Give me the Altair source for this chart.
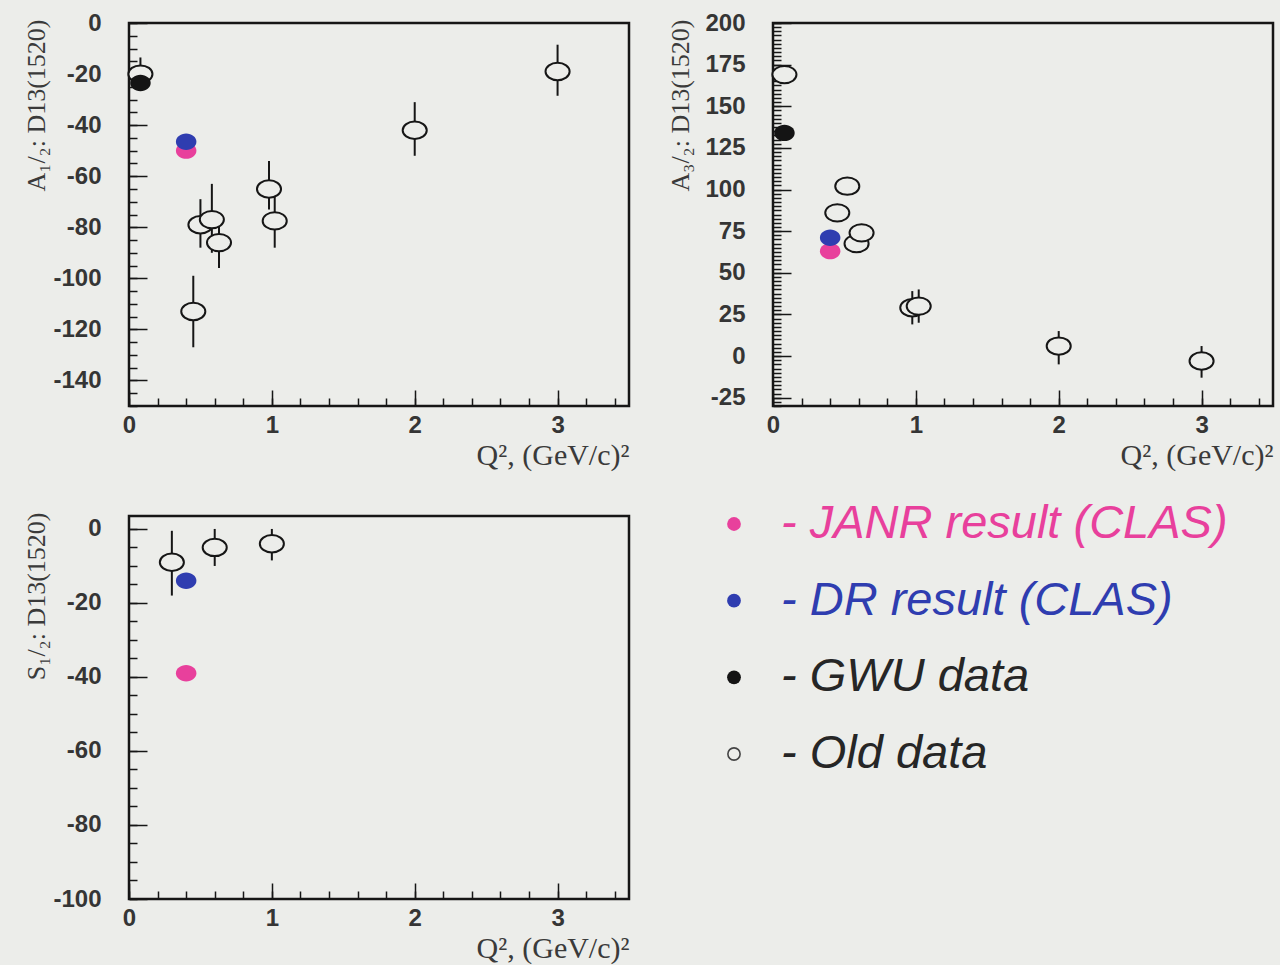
import altair as alt
import pandas as pd

BG = "#ecedea"
INK = "#161616"
PINK = "#e8409c"
BLUE = "#2f3db0"
BLACK = "#141414"
W, H = 500, 383

# ---------------- data: A1/2 ----------------
a12_old_q = [0.08, 0.45, 0.50, 0.58, 0.63, 0.98, 1.02, 2.0, 3.0]
a12_old_v = [-20, -113, -79, -77, -86, -65, -77.5, -42, -19]
a12_old_hi = [-13.5, -99, -69, -63, -77, -54, -67, -31, -8.5]
a12_old_lo = [-26, -127, -88, -90, -96, -73, -88, -52, -28.5]
a12_gwu_q, a12_gwu_v = [0.08], [-23.5]
a12_dr_q, a12_dr_v = [0.40], [-46.5]
a12_janr_q, a12_janr_v = [0.40], [-50]

# ---------------- data: A3/2 ----------------
a32_old_q = [0.08, 0.45, 0.52, 0.585, 0.62, 0.975, 1.02, 2.0, 3.0]
a32_old_v = [169, 86, 102, 67.5, 74, 29, 30, 6, -3]
a32_old_hi = [169, 86, 102, 67.5, 74, 39, 40, 15, 6]
a32_old_lo = [169, 86, 102, 67.5, 74, 19, 20, -5, -13]
a32_gwu_q, a32_gwu_v = [0.08], [134]
a32_dr_q, a32_dr_v = [0.40], [71]
a32_janr_q, a32_janr_v = [0.40], [63]

# ---------------- data: S1/2 ----------------
s12_old_q = [0.30, 0.60, 1.0]
s12_old_v = [-9, -5, -4]
s12_old_hi = [-0.5, 0, 0]
s12_old_lo = [-18, -10, -8.5]
s12_dr_q, s12_dr_v = [0.40], [-14]
s12_janr_q, s12_janr_v = [0.40], [-39]

# ---------------- ticks ----------------
x_major = [0, 1, 2, 3]
x_minor = [round(i * 0.2, 2) for i in range(18)]
a12_major = [-140, -120, -100, -80, -60, -40, -20, 0]
a12_minor = list(range(-150, 1, 5))
a32_major = [-25, 0, 25, 50, 75, 100, 125, 150, 175, 200]
a32_minor = [i * 2.5 for i in range(-12, 81)]
s12_major = [-100, -80, -60, -40, -20, 0]
s12_minor = list(range(-100, 1, 5))

# ---------------- legend ----------------
leg_labels = ["- JANR result (CLAS)", "- DR result (CLAS)", "- GWU data", "- Old data"]
leg_text_colors = [PINK, BLUE, "#262626", "#262626"]
leg_marker_colors = [PINK, BLUE, BLACK, "#444444"]

ELL = "M -1 0 A 1 0.72 0 1 0 1 0 A 1 0.72 0 1 0 -1 0 Z"
DOT = "M -1 0 A 1 0.8 0 1 0 1 0 A 1 0.8 0 1 0 -1 0 Z"
LABEL_EXPR = "'' + datum.value"


def panel(oq, ov, ohi, olo, gq, gv, dq, dv, jq, jv, ydom, ymaj, ymin, ytitle, xtitle):
    old = pd.DataFrame({"q": oq, "v": ov, "hi": ohi, "lo": olo})
    xs = alt.Scale(domain=[0, 3.5], nice=False, zero=False)
    ys = alt.Scale(domain=ydom, nice=False, zero=False)
    base = alt.Chart(old)

    main_axes = base.mark_point(opacity=0).encode(
        x=alt.X("q:Q", scale=xs, axis=alt.Axis(
            orient="bottom", values=x_major, ticks=False, domain=False, grid=False,
            labelPadding=7, labelFlush=False, labelOverlap=False, labelExpr=LABEL_EXPR,
            title=xtitle, titleAnchor="end", titleAlign="right", titleBaseline="top",
            titleY=34, titleFont="Liberation Serif", titleFontSize=30)),
        y=alt.Y("v:Q", scale=ys, axis=alt.Axis(
            orient="left", values=ymaj, ticks=False, domain=False, grid=False,
            labelPadding=28, labelFlush=False, labelOverlap=False, labelExpr=LABEL_EXPR,
            title=ytitle, titleAnchor="end", titleAlign="right", titleBaseline="middle",
            titleAngle=270, titleX=-93, titleY=-4)),
    )
    minor_axes = base.mark_point(opacity=0).encode(
        x=alt.X("q:Q", scale=xs, axis=alt.Axis(
            orient="top", offset=-H, values=x_minor, labels=False, domain=False,
            grid=False, tickSize=8, tickWidth=1.5, tickColor=INK, title="")),
        y=alt.Y("v:Q", scale=ys, axis=alt.Axis(
            orient="right", offset=-W, values=ymin, labels=False, domain=False,
            grid=False, tickSize=8, tickWidth=1.5, tickColor=INK, title="")),
    )
    major_axes = base.mark_point(opacity=0).encode(
        x=alt.X("q:Q", scale=xs, axis=alt.Axis(
            orient="top", offset=-H, values=x_major, labels=False, domain=False,
            grid=False, tickSize=16, tickWidth=1.5, tickColor=INK, title="")),
        y=alt.Y("v:Q", scale=ys, axis=alt.Axis(
            orient="right", offset=-W, values=ymaj, labels=False, domain=False,
            grid=False, tickSize=18, tickWidth=1.5, tickColor=INK, title="")),
    )
    errs = base.mark_rule(color=INK, strokeWidth=2).encode(
        x=alt.X("q:Q", scale=xs, axis=None),
        y=alt.Y("hi:Q", scale=ys, axis=None),
        y2="lo:Q",
    )
    circles = base.mark_point(shape=ELL, size=580, filled=True, fill=BG,
                              stroke=INK, strokeWidth=2, opacity=1).encode(
        x=alt.X("q:Q", scale=xs, axis=None),
        y=alt.Y("v:Q", scale=ys, axis=None),
    )
    layers = [main_axes, minor_axes, major_axes, errs, circles]

    def dots(q, v, col):
        df = pd.DataFrame({"q": q, "v": v})
        return alt.Chart(df).mark_point(shape=DOT, size=420, filled=True, fill=col,
                                        opacity=1, strokeWidth=0).encode(
            x=alt.X("q:Q", scale=xs, axis=None),
            y=alt.Y("v:Q", scale=ys, axis=None),
        )

    if gq:
        layers.append(dots(gq, gv, BLACK))
    layers.append(dots(jq, jv, PINK))
    layers.append(dots(dq, dv, BLUE))
    return alt.layer(*layers).resolve_axis(x="independent", y="independent").properties(
        width=W, height=H)


XT = "Q², (GeV/c)²"
p1 = panel(a12_old_q, a12_old_v, a12_old_hi, a12_old_lo, a12_gwu_q, a12_gwu_v,
           a12_dr_q, a12_dr_v, a12_janr_q, a12_janr_v, [-150, 0], a12_major, a12_minor,
           "A₁/₂: D13(1520)", XT)
p2 = panel(a32_old_q, a32_old_v, a32_old_hi, a32_old_lo, a32_gwu_q, a32_gwu_v,
           a32_dr_q, a32_dr_v, a32_janr_q, a32_janr_v, [-30, 200], a32_major, a32_minor,
           "A₃/₂: D13(1520)", XT)
p3 = panel(s12_old_q, s12_old_v, s12_old_hi, s12_old_lo, [], [],
           s12_dr_q, s12_dr_v, s12_janr_q, s12_janr_v, [-100, 3.5], s12_major, s12_minor,
           "S₁/₂: D13(1520)", XT)

leg_df = pd.DataFrame({"label": leg_labels})
ly = alt.Y("label:N", sort=leg_labels,
           scale=alt.Scale(domain=leg_labels, range=[8, 238], padding=0), axis=None)
leg_base = alt.Chart(leg_df)
leg_filled = leg_base.transform_filter(alt.datum.label != "- Old data").mark_point(
    shape="circle", size=190, filled=True, opacity=1).encode(
    x=alt.value(-39), y=ly,
    fill=alt.Fill("label:N", scale=alt.Scale(domain=leg_labels, range=leg_marker_colors),
                  legend=None),
)
leg_open = leg_base.transform_filter(alt.datum.label == "- Old data").mark_point(
    shape="circle", size=150, filled=False, strokeWidth=1.6, opacity=1).encode(
    x=alt.value(-39), y=ly,
    stroke=alt.Stroke("label:N", scale=alt.Scale(domain=leg_labels, range=leg_marker_colors),
                      legend=None),
)
leg_text = leg_base.mark_text(align="left", baseline="middle", font="Liberation Sans",
                              fontStyle="italic", fontSize=47, opacity=1).encode(
    x=alt.value(8), y=ly, text="label:N",
    color=alt.Color("label:N", scale=alt.Scale(domain=leg_labels, range=leg_text_colors),
                    legend=None),
)
legend = alt.layer(leg_filled, leg_open, leg_text).resolve_scale(
    color="independent", fill="independent", stroke="independent").properties(
    width=W, height=H, view=alt.ViewBackground(stroke="transparent"))

chart = alt.concat(p1, p2, p3, legend, columns=2,
                   spacing={"row": 110, "column": 144}, bounds="flush").properties(
    padding={"left": 21, "top": 9, "right": 5, "bottom": 2},
    background=BG,
).configure_view(stroke=INK, strokeWidth=2.5).configure_axis(
    labelFont="Liberation Sans", labelFontWeight="bold", labelFontSize=24,
    labelColor="#353535", titleFont="Liberation Serif", titleFontWeight="normal",
    titleFontSize=26, titleColor="#3a3a3a",
)

chart.save("out.html", embed_options={"renderer": "svg", "actions": False})
